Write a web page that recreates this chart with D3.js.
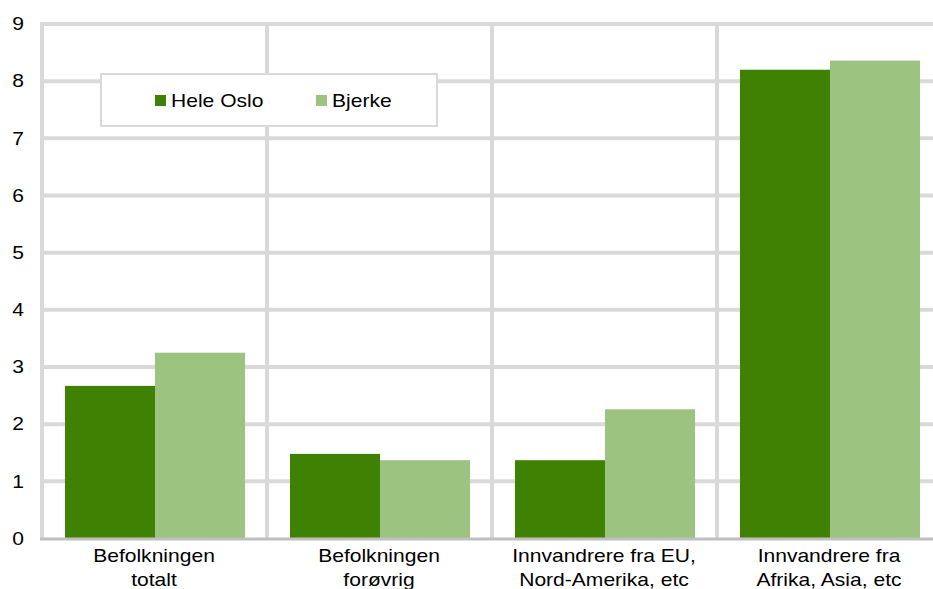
<!DOCTYPE html>
<html>
<head>
<meta charset="utf-8">
<script src="https://cdn.jsdelivr.net/npm/d3@7"></script>
<style>
  html, body { margin: 0; padding: 0; background: #ffffff; }
  svg { display: block; }
  text { font-family: "Liberation Sans", Arial, sans-serif; fill: #000; }
</style>
</head>
<body>
<svg id="chart" width="933" height="589"></svg>
<script>
const categories = [
  ["Befolkningen", "totalt"],
  ["Befolkningen", "forøvrig"],
  ["Innvandrere fra EU,", "Nord-Amerika, etc"],
  ["Innvandrere fra", "Afrika, Asia, etc"]
];
const seriesNames = ["Hele Oslo", "Bjerke"];
const heleOslo = [2.67, 1.48, 1.37, 8.20];
const bjerke = [3.25, 1.37, 2.26, 8.36];
const yTicks = [0, 1, 2, 3, 4, 5, 6, 7, 8, 9];
const colors = ["#3f8203", "#9dc381"];

const W = 933, H = 589;
const plot = { left: 42, right: 942, top: 24, bottom: 538.5 };
const fontSize = 18, sx = 1.17;

const svg = d3.select("#chart");
const catKeys = categories.map((c, i) => i);
const x0 = d3.scaleBand().domain(catKeys).range([plot.left, plot.right]).paddingInner(0).paddingOuter(0);
const x1 = d3.scaleBand().domain(seriesNames).range([23, x0.bandwidth() - 22]);
const y = d3.scaleLinear().domain([0, 9]).range([plot.bottom, plot.top]);

const grid = svg.append("g");
// horizontal gridlines
grid.selectAll("line.h").data(yTicks.filter(t => t > 0)).join("line")
  .attr("x1", plot.left).attr("x2", W)
  .attr("y1", d => y(d)).attr("y2", d => y(d))
  .attr("stroke", "#d9d9d9").attr("stroke-width", 4);
// vertical gridlines at category boundaries
grid.selectAll("line.v").data(catKeys).join("line")
  .attr("x1", d => x0(d)).attr("x2", d => x0(d))
  .attr("y1", plot.top - 2).attr("y2", plot.bottom)
  .attr("stroke", "#d9d9d9").attr("stroke-width", 4);

// bars
const values = [heleOslo, bjerke];
const barG = svg.append("g");
seriesNames.forEach((s, si) => {
  barG.selectAll("rect.s" + si).data(values[si]).join("rect")
    .attr("x", (d, i) => x0(i) + x1(s))
    .attr("width", x1.bandwidth())
    .attr("y", d => y(d))
    .attr("height", d => y(0) - y(d))
    .attr("fill", colors[si]);
});

// bottom axis line
svg.append("line")
  .attr("x1", plot.left - 2).attr("x2", W)
  .attr("y1", plot.bottom + 0.5).attr("y2", plot.bottom + 0.5)
  .attr("stroke", "#bfbfbf").attr("stroke-width", 3);

// y tick labels
svg.append("g").selectAll("text").data(yTicks).join("text")
  .attr("transform", d => `translate(24,${y(d)}) scale(${sx},1)`)
  .attr("text-anchor", "end")
  .attr("dy", "0.35em")
  .attr("font-size", fontSize)
  .text(d => d);

// category labels
const catG = svg.append("g").selectAll("g").data(categories).join("g");
catG.each(function(lines, i) {
  const cx = x0(i) + x0.bandwidth() / 2 - 0.5;
  lines.forEach((ln, li) => {
    d3.select(this).append("text")
      .attr("transform", `translate(${cx},${562 + li * 24}) scale(${sx},1)`)
      .attr("text-anchor", "middle")
      .attr("font-size", fontSize)
      .text(ln);
  });
});

// legend
const leg = svg.append("g");
leg.append("rect")
  .attr("x", 101).attr("y", 74).attr("width", 336).attr("height", 52)
  .attr("fill", "#ffffff").attr("stroke", "#d9d9d9").attr("stroke-width", 2);
const legX = [155, 316];
seriesNames.forEach((s, si) => {
  leg.append("rect")
    .attr("x", legX[si]).attr("y", 95).attr("width", 11).attr("height", 11)
    .attr("fill", colors[si]);
  leg.append("text")
    .attr("transform", `translate(${legX[si] + 16},106.5) scale(${sx},1)`)
    .attr("font-size", fontSize)
    .text(s);
});
</script>
</body>
</html>
